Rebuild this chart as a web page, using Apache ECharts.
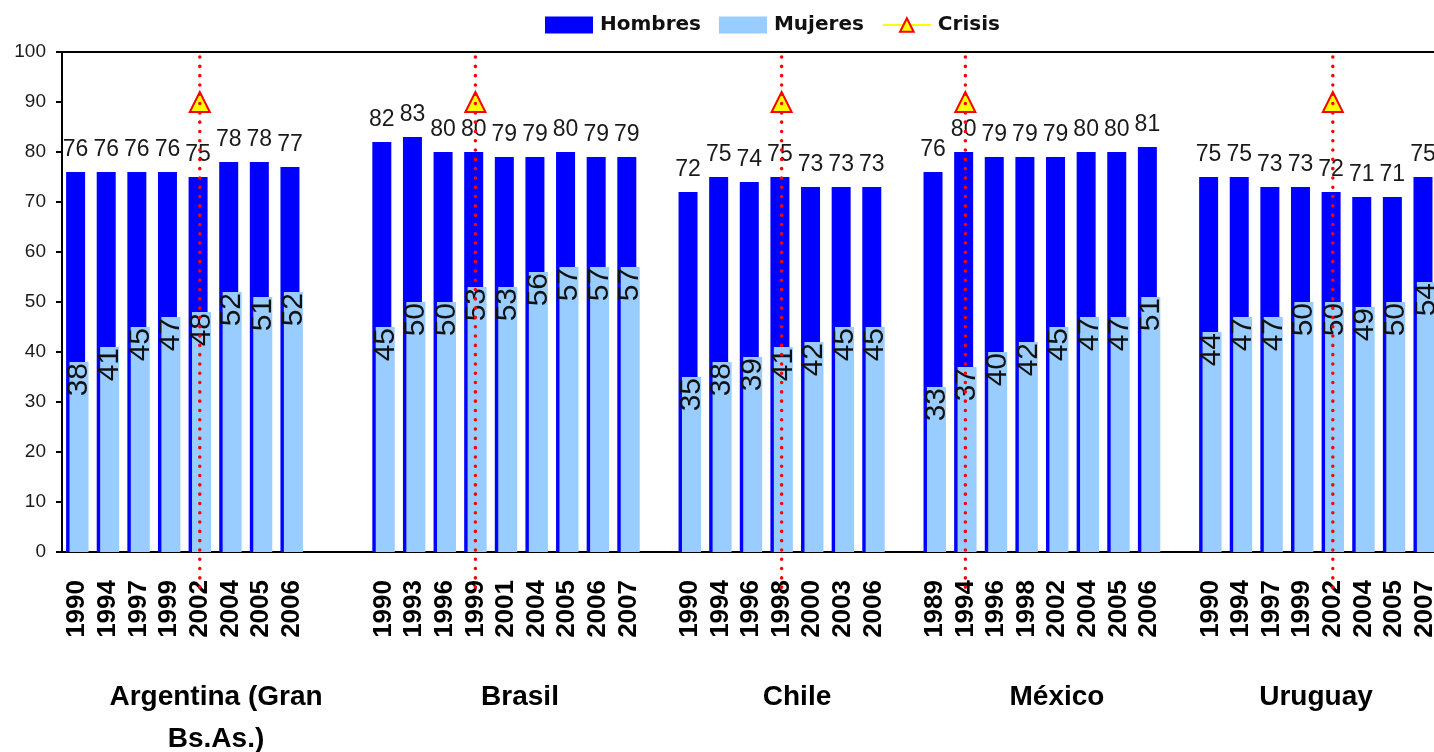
<!DOCTYPE html>
<html>
<head>
<meta charset="utf-8">
<script src="https://cdn.jsdelivr.net/npm/echarts@6/dist/echarts.min.js"></script>
<style>html,body{margin:0;padding:0;background:#fff;overflow:hidden}#c{width:1440px;height:752px}</style>
</head>
<body>
<div id="c"></div>
<script>
// ---------- DATA ----------
const countryLabels = ['Argentina (Gran\nBs.As.)', 'Brasil', 'Chile', 'México', 'Uruguay'];
const countryYears = [
  ['1990','1994','1997','1999','2002','2004','2005','2006'],
  ['1990','1993','1996','1999','2001','2004','2005','2006','2007'],
  ['1990','1994','1996','1998','2000','2003','2006'],
  ['1989','1994','1996','1998','2002','2004','2005','2006'],
  ['1990','1994','1997','1999','2002','2004','2005','2007']
];
const hombresValues = [
  [76,76,76,76,75,78,78,77],
  [82,83,80,80,79,79,80,79,79],
  [72,75,74,75,73,73,73],
  [76,80,79,79,79,80,80,81],
  [75,75,73,73,72,71,71,75]
];
const mujeresValues = [
  [38,41,45,47,48,52,51,52],
  [45,50,50,53,53,56,57,57,57],
  [35,38,39,41,42,45,45],
  [33,37,40,42,45,47,47,51],
  [44,47,47,50,50,49,50,54]
];
const crisisYears = ['2002','1999','1998','1994','2002'];
const crisisLevel = 90;
const crisisLineTop = 99;
const crisisLineBottom = -7.5;

// ---------- BUILD ----------
const GAPS = [2,1,1,1]; // blank categories between country groups
const cats = [], hom = [], muj = [], crisisIdx = [];
countryYears.forEach((ys, ci) => {
  ys.forEach((y, j) => {
    if (y === crisisYears[ci]) crisisIdx.push(cats.length);
    cats.push(y);
    hom.push(hombresValues[ci][j]);
    muj.push(mujeresValues[ci][j]);
  });
  if (ci < GAPS.length) {
    for (let k = 0; k < GAPS[ci]; k++) { cats.push(''); hom.push(null); muj.push(null); }
  }
});
const crisisData = cats.map((_, i) => crisisIdx.indexOf(i) >= 0 ? crisisLevel : null);
const crisisLines = crisisIdx.map(i => [i, crisisLineTop, crisisLineBottom]);

// layout positions for the group captions (pixels)
const captionX = [216, 520, 797, 1057, 1316];
const captionY = 676;

const chart = echarts.init(document.getElementById('c'));
const option = {
  animation: false,
  backgroundColor: '#ffffff',
  grid: { left: 62, top: 52, right: 0, height: 500 },
  legend: {
    left: 545, top: 15, padding: 0,
    itemWidth: 48, itemHeight: 17, itemGap: 18,
    textStyle: { fontFamily: 'DejaVu Sans', fontWeight: 'bold', fontSize: 20, color: '#111', padding: [0,0,0,2] },
    data: [{ name: 'Hombres', icon: 'rect' }, { name: 'Mujeres', icon: 'rect' }, { name: 'Crisis' }]
  },
  xAxis: [{
    type: 'category', data: cats, position: 'bottom',
    axisLine: { lineStyle: { color: '#000', width: 2 } },
    axisTick: { show: false },
    axisLabel: { interval: 0, rotate: 90, margin: 28, fontFamily: 'Liberation Sans', fontWeight: 'bold', fontSize: 26, color: '#000' }
  }, {
    type: 'category', data: cats, position: 'top',
    axisLine: { lineStyle: { color: '#000', width: 2 } },
    axisTick: { show: false }, axisLabel: { show: false }
  }],
  yAxis: {
    type: 'value', min: 0, max: 100, interval: 10,
    axisLine: { show: true, lineStyle: { color: '#000', width: 2 } },
    axisTick: { show: true, length: 6, lineStyle: { color: '#000', width: 2 } },
    splitLine: { show: false },
    axisLabel: { margin: 16, fontFamily: 'Liberation Sans', fontSize: 19, color: '#1a1a1a' }
  },
  series: [
    {
      name: 'Hombres', type: 'bar', data: hom, barWidth: 19, barGap: '-82%',
      itemStyle: { color: '#0000ff' },
      label: { show: true, position: 'top', distance: 11, fontFamily: 'Liberation Sans', fontSize: 23, color: '#1a1a1a' }
    },
    {
      name: 'Mujeres', type: 'bar', data: muj, barWidth: 19, barGap: '-82%',
      itemStyle: { color: '#99ccff' },
      label: { show: true, position: 'insideTop', rotate: 90, align: 'right', verticalAlign: 'middle', distance: 1,
               fontFamily: 'Liberation Sans', fontSize: 30, color: '#111' }
    },
    {
      name: 'Crisis', type: 'line', data: crisisData, symbol: 'triangle', symbolSize: 20, showAllSymbol: true,
      itemStyle: { color: '#ffff00', borderColor: '#ff0000', borderWidth: 2 },
      lineStyle: { color: '#ffff00', width: 2 }, z: 5
    },
    {
      name: 'crisisLine', type: 'custom', data: crisisLines, silent: true, clip: false, z: 10,
      encode: { x: 0, y: [1, 2] },
      renderItem: function (params, api) {
        const x = api.value(0);
        const p1 = api.coord([x, api.value(1)]);
        const p2 = api.coord([x, api.value(2)]);
        return { type: 'line', shape: { x1: p1[0], y1: p1[1], x2: p2[0], y2: p2[1] },
                 style: { stroke: '#ff0000', lineWidth: 3.5, lineDash: [0.1, 9.2], lineCap: 'round' } };
      }
    }
  ],
  graphic: countryLabels.map((t, i) => ({
    type: 'text', x: captionX[i], y: captionY,
    style: { text: t, textAlign: 'center', fontFamily: 'Liberation Sans', fontWeight: 'bold', fontSize: 28, lineHeight: 42, fill: '#000' }
  }))
};
chart.setOption(option);
</script>
</body>
</html>
